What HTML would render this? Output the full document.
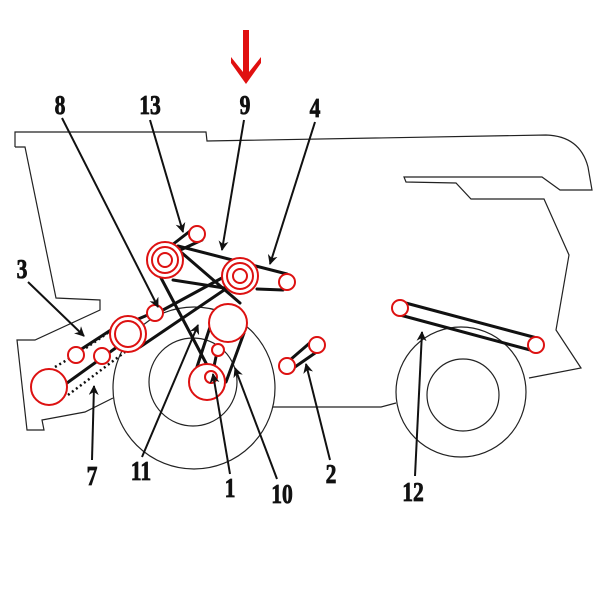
<!DOCTYPE html>
<html><head><meta charset="utf-8"><style>
html,body{margin:0;padding:0;background:#fff;}
svg{display:block;}
.lbl{font-family:"Liberation Serif",serif;font-weight:bold;font-size:27px;fill:#111;stroke:#111;stroke-width:0.8;}
</style></head><body>
<svg width="600" height="600" viewBox="0 0 600 600" xmlns="http://www.w3.org/2000/svg">
<defs>
<marker id="ah" markerWidth="10" markerHeight="10" refX="9" refY="5" orient="auto" markerUnits="userSpaceOnUse">
<path d="M0,0 L10,5 L0,10 L3,5 Z" fill="#111"/>
</marker>
</defs>
<g fill="none" stroke="#222" stroke-width="1.2">
<path d="M15,147 L15,132 L206,132 L207,141 L546,135 Q580,136 588,167 L592,190 L560,190 L542,177 L404,177 L406,182 L456,183 L471,199 L544,199 L569,255 L556,330 L581,368 L529,378"/>
<path d="M15,147 L25,147 L56,298 L100,300 L100,310 L35,340 L17,340 L27,430 L44,430 L42,420 L85,412 L113,398"/>
<path d="M273,407 L381,407 L396,403"/>
<circle cx="194" cy="388" r="81"/>
<circle cx="193" cy="382" r="44"/>
<circle cx="461" cy="392" r="65"/>
<circle cx="463" cy="395" r="36"/>
</g>
<g stroke="#111" stroke-width="3" fill="none" stroke-linecap="round">
<line x1="172" y1="245" x2="194" y2="228"/>
<line x1="176" y1="252" x2="202" y2="240"/>
<line x1="178" y1="246" x2="287" y2="274"/>
<line x1="257" y1="289" x2="283" y2="290"/>
<line x1="173" y1="280" x2="237" y2="290"/>
<line x1="182" y1="253" x2="240" y2="303"/>
<line x1="160" y1="276" x2="207" y2="365"/>
<line x1="163" y1="310" x2="233" y2="272"/>
<line x1="140" y1="347" x2="233" y2="284"/>
<line x1="210" y1="327" x2="195" y2="373"/>
<line x1="244" y1="333" x2="226" y2="382"/>
<line x1="212" y1="376" x2="217" y2="352"/>
<line x1="136" y1="320" x2="150" y2="314"/>
<line x1="80" y1="350" x2="117" y2="326"/>
<line x1="67" y1="383" x2="117" y2="347"/>
<line x1="290" y1="360" x2="312" y2="341"/>
<line x1="292" y1="369" x2="318" y2="351"/>
<line x1="402" y1="302" x2="537" y2="338"/>
<line x1="400" y1="315" x2="534" y2="351"/>
</g>
<g stroke="#111" stroke-width="2.5" fill="none" stroke-dasharray="2,3">
<line x1="55" y1="367" x2="72" y2="357"/>
<line x1="68" y1="395" x2="125" y2="352"/>
<line x1="86" y1="348" x2="112" y2="330"/>
</g>
<g fill="#fff" stroke="#d11" stroke-width="2">
<circle cx="197" cy="234" r="8"/>
<circle cx="165" cy="260" r="18"/>
<circle cx="165" cy="260" r="13"/>
<circle cx="165" cy="260" r="7"/>
<circle cx="240" cy="276" r="18"/>
<circle cx="240" cy="276" r="13"/>
<circle cx="240" cy="276" r="7"/>
<circle cx="287" cy="282" r="8"/>
<circle cx="155" cy="313" r="8"/>
<circle cx="128" cy="334" r="18"/>
<circle cx="128" cy="334" r="13"/>
<circle cx="228" cy="323" r="19"/>
<circle cx="76" cy="355" r="8"/>
<circle cx="102" cy="356" r="8"/>
<circle cx="49" cy="387" r="18"/>
<circle cx="218" cy="350" r="6"/>
<circle cx="207" cy="382" r="18"/>
<circle cx="211" cy="377" r="6"/>
<circle cx="287" cy="366" r="8"/>
<circle cx="317" cy="345" r="8"/>
<circle cx="400" cy="308" r="8"/>
<circle cx="536" cy="345" r="8"/>
</g>
<g stroke="#111" stroke-width="2" marker-end="url(#ah)">
<line x1="62" y1="118" x2="158" y2="307"/>
<line x1="150" y1="120" x2="183" y2="232"/>
<line x1="244" y1="120" x2="222" y2="250"/>
<line x1="315" y1="122" x2="270" y2="264"/>
<line x1="28" y1="282" x2="84" y2="336"/>
<line x1="92" y1="460" x2="94" y2="386"/>
<line x1="142" y1="457" x2="198" y2="325"/>
<line x1="230" y1="474" x2="213" y2="374"/>
<line x1="277" y1="479" x2="235" y2="368"/>
<line x1="330" y1="460" x2="306" y2="364"/>
<line x1="415" y1="476" x2="422" y2="332"/>
</g>
<path d="M243,30 L249,30 L249,72 L261,57 L261,63 L246,84 L231,63 L231,57 L243,72 Z" fill="#e01010"/>
<g class="lbl" text-anchor="middle">
<text x="60" y="114" transform="translate(60,0) scale(0.8,1) translate(-60,0)">8</text>
<text x="150" y="114" transform="translate(150,0) scale(0.8,1) translate(-150,0)">13</text>
<text x="245" y="114" transform="translate(245,0) scale(0.8,1) translate(-245,0)">9</text>
<text x="315" y="117" transform="translate(315,0) scale(0.8,1) translate(-315,0)">4</text>
<text x="22" y="278" transform="translate(22,0) scale(0.8,1) translate(-22,0)">3</text>
<text x="92" y="485" transform="translate(92,0) scale(0.8,1) translate(-92,0)">7</text>
<text x="141" y="480" transform="translate(141,0) scale(0.8,1) translate(-141,0)">11</text>
<text x="230" y="497" transform="translate(230,0) scale(0.8,1) translate(-230,0)">1</text>
<text x="282" y="503" transform="translate(282,0) scale(0.8,1) translate(-282,0)">10</text>
<text x="331" y="483" transform="translate(331,0) scale(0.8,1) translate(-331,0)">2</text>
<text x="413" y="501" transform="translate(413,0) scale(0.8,1) translate(-413,0)">12</text>
</g>
</svg>
</body></html>
